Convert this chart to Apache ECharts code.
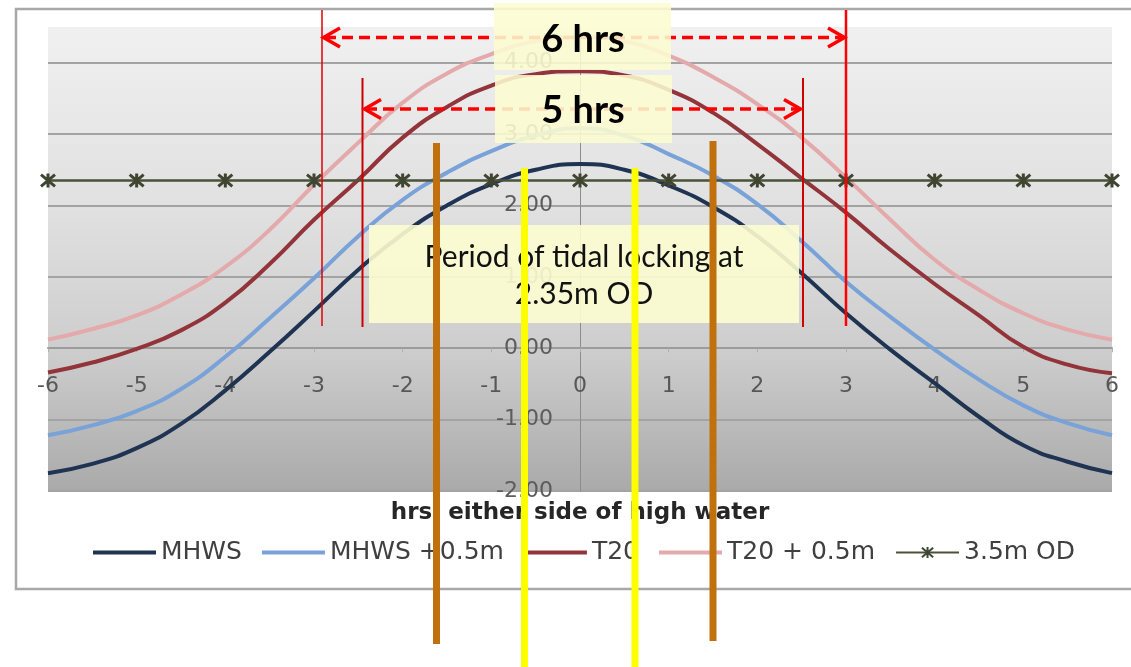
<!DOCTYPE html>
<html>
<head>
<meta charset="utf-8">
<script src="https://cdn.jsdelivr.net/npm/echarts@6/dist/echarts.min.js"></script>
<style>
html,body{margin:0;padding:0;background:#fff;}
#chart{width:1131px;height:667px;}
</style>
</head>
<body>
<div id="chart"></div>
<script>
// ---- data ----
// half-hour steps for the tide curves
const halfHours = [-6, -5.5, -5, -4.5, -4, -3.5, -3, -2.5, -2, -1.5, -1, -0.5, 0,
                   0.5, 1, 1.5, 2, 2.5, 3, 3.5, 4, 4.5, 5, 5.5, 6];
const mhws = [-1.75, -1.62, -1.40, -1.06, -0.59, -0.05, 0.52, 1.10, 1.60, 2.00, 2.30, 2.50, 2.58,
              2.50, 2.28, 1.98, 1.57, 1.05, 0.49, -0.02, -0.49, -0.96, -1.36, -1.59, -1.75];
const mhwsPlus = [-1.22, -1.08, -0.88, -0.57, -0.12, 0.42, 0.98, 1.57, 2.08, 2.46, 2.76, 2.98, 3.08,
                  2.98, 2.72, 2.42, 2.02, 1.50, 0.93, 0.44, -0.02, -0.44, -0.80, -1.05, -1.22];
const t20 = [-0.34, -0.20, -0.01, 0.25, 0.64, 1.18, 1.80, 2.36, 2.95, 3.38, 3.68, 3.84, 3.88,
             3.82, 3.62, 3.30, 2.86, 2.38, 1.90, 1.38, 0.90, 0.46, 0.02, -0.23, -0.35];
const t20Plus = [0.12, 0.27, 0.46, 0.75, 1.14, 1.66, 2.29, 2.88, 3.44, 3.85, 4.12, 4.30, 4.36,
                 4.30, 4.10, 3.80, 3.42, 2.95, 2.39, 1.80, 1.24, 0.82, 0.49, 0.26, 0.12];
// hourly points of the 2.35 m level line
const hours = [-6, -5, -4, -3, -2, -1, 0, 1, 2, 3, 4, 5, 6];
const od = [2.35, 2.35, 2.35, 2.35, 2.35, 2.35, 2.35, 2.35, 2.35, 2.35, 2.35, 2.35, 2.35];
const seriesNames = ['MHWS', 'MHWS +0.5m', 'T20', 'T20 + 0.5m', '3.5m OD'];
const xTitle = 'hrs  either side of high water';
const label6 = '6 hrs';
const label5 = '5 hrs';
const noteLines = ['Period of tidal locking at', '2.35m OD'];

const pairs = (xs, arr) => xs.map((h, i) => [h, arr[i]]);
const starPath = 'path://M0,0L10,10M10,0L0,10M5,-1L5,11';
const barIcon = 'path://M0,0L63,0L63,4L0,4Z';
const FONT = 'DejaVu Sans';

// plot geometry (pixels)
const G = {left: 48, right: 19, top: 27, bottom: 176, height: 464, width: 1064};
const yMin = -2, yMax = 4.5, xMin = -6, xMax = 6;
const zeroYOffset = -(0 - yMin) / (yMax - yMin) * G.height;   // lift x axis to y = 0
const zeroXOffset = -(0 - xMin) / (xMax - xMin) * G.width;    // move y axis to x = 0

const chart = echarts.init(document.getElementById('chart'), null, {renderer: 'canvas'});

function lineSeries(name, data, color, width) {
  return {
    name: name, type: 'line', data: pairs(halfHours, data), smooth: 0.5,
    symbol: 'none', showSymbol: false,
    lineStyle: {color: color, width: width},
    itemStyle: {color: color},
    z: 3
  };
}

const overlays = [];
overlays.push({type: 'rect', z: -10, shape: {x: 16, y: 9, width: 1130, height: 580},
  style: {fill: '#ffffff', stroke: '#a8a8a8', lineWidth: 2.5}, silent: true});
overlays.push({type: 'line', z: 50, shape: {x1: 322, y1: 10, x2: 322, y2: 326}, style: {stroke: '#e00000', lineWidth: 1.5}});
overlays.push({type: 'line', z: 50, shape: {x1: 846, y1: 10, x2: 846, y2: 326}, style: {stroke: '#ff0000', lineWidth: 2.5}});
overlays.push({type: 'line', z: 50, shape: {x1: 362.5, y1: 78, x2: 362.5, y2: 327}, style: {stroke: '#c80000', lineWidth: 2}});
overlays.push({type: 'line', z: 50, shape: {x1: 803, y1: 78, x2: 803, y2: 327}, style: {stroke: '#d00000', lineWidth: 2}});
function arrow(x1, x2, y) {
  overlays.push({type: 'line', z: 51, shape: {x1: x1 + 3, y1: y, x2: x2 - 3, y2: y},
    style: {stroke: '#ff0000', lineWidth: 3.5, lineDash: [11, 6]}});
  overlays.push({type: 'polyline', z: 51, shape: {points: [[x1 + 18, y - 9.5], [x1 + 1.5, y], [x1 + 18, y + 9.5]]},
    style: {stroke: '#ff0000', lineWidth: 3.5, fill: null}});
  overlays.push({type: 'polyline', z: 51, shape: {points: [[x2 - 18, y - 9.5], [x2 - 1.5, y], [x2 - 18, y + 9.5]]},
    style: {stroke: '#ff0000', lineWidth: 3.5, fill: null}});
}
arrow(322, 846, 37.5);
arrow(363, 802, 109);
overlays.push({type: 'rect', z: 60, shape: {x: 494, y: 3, width: 177, height: 67}, style: {fill: 'rgba(252,252,208,0.88)'}});
overlays.push({type: 'rect', z: 60, shape: {x: 495, y: 75, width: 177, height: 68}, style: {fill: 'rgba(252,252,208,0.88)'}});
overlays.push({type: 'rect', z: 60, shape: {x: 369, y: 225, width: 430, height: 98}, style: {fill: 'rgba(252,252,208,0.9)'}});
overlays.push({type: 'text', z: 61, style: {text: label6, x: 583, y: 40, textAlign: 'center', textVerticalAlign: 'middle', font: 'bold 38px Lato', fill: '#000'}});
overlays.push({type: 'text', z: 61, style: {text: label5, x: 583, y: 111, textAlign: 'center', textVerticalAlign: 'middle', font: 'bold 38px Lato', fill: '#000'}});
overlays.push({type: 'text', z: 61, style: {text: noteLines[0], x: 584, y: 257, textAlign: 'center', textVerticalAlign: 'middle', font: '30px Lato', fill: '#111'}});
overlays.push({type: 'text', z: 61, style: {text: noteLines[1], x: 584, y: 294, textAlign: 'center', textVerticalAlign: 'middle', font: '30px Lato', fill: '#111'}});
overlays.push({type: 'line', z: 70, shape: {x1: 436.5, y1: 143, x2: 436.5, y2: 644}, style: {stroke: '#c0700c', lineWidth: 7}});
overlays.push({type: 'line', z: 70, shape: {x1: 713, y1: 141, x2: 713, y2: 641}, style: {stroke: '#c0700c', lineWidth: 7}});
overlays.push({type: 'line', z: 70, shape: {x1: 524.5, y1: 168, x2: 524.5, y2: 667}, style: {stroke: '#ffff00', lineWidth: 7}});
overlays.push({type: 'line', z: 70, shape: {x1: 635, y1: 168, x2: 635, y2: 667}, style: {stroke: '#ffff00', lineWidth: 7}});
overlays.push({type: 'text', z: 40, style: {text: xTitle, x: 580, y: 513, textAlign: 'center', textVerticalAlign: 'middle', font: 'bold 23px "DejaVu Sans"', fill: '#262626'}});

const option = {
  animation: false,
  backgroundColor: 'transparent',
  grid: {
    left: G.left, right: G.right, top: G.top, bottom: G.bottom,
    containLabel: false, outerBoundsMode: 'none',
    show: true, borderWidth: 0,
    backgroundColor: {type: 'linear', x: 0, y: 0, x2: 0, y2: 1, colorStops: [
      {offset: 0, color: '#f0f0f0'}, {offset: 0.4, color: '#e0e0e0'},
      {offset: 0.7, color: '#cdcdcd'}, {offset: 1, color: '#aaaaaa'}]}
  },
  xAxis: {
    type: 'value', min: xMin, max: xMax, interval: 1,
    position: 'bottom', offset: zeroYOffset,
    axisLine: {show: true, onZero: false, lineStyle: {color: '#9c9c9c', width: 2}},
    axisTick: {show: true, length: 4, lineStyle: {color: '#b0b0b0'}},
    axisLabel: {margin: 27, fontSize: 22, fontFamily: FONT, color: '#575757'},
    splitLine: {show: false}
  },
  yAxis: {
    type: 'value', min: yMin, max: yMax, interval: 1,
    position: 'left', offset: zeroXOffset,
    axisLine: {show: true, onZero: false, lineStyle: {color: '#8c8c8c', width: 1}},
    axisTick: {show: false},
    axisLabel: {margin: 27, fontSize: 22, fontFamily: FONT, color: '#5c5c5c',
      formatter: v => (Math.abs(v - Math.round(v)) > 0.01 ? '' : v.toFixed(2))},
    splitLine: {show: true, showMaxLine: false, lineStyle: {color: '#a3a3a3', width: 2}}
  },
  legend: {
    data: [
      {name: seriesNames[0], icon: barIcon},
      {name: seriesNames[1], icon: barIcon},
      {name: seriesNames[2], icon: barIcon},
      {name: seriesNames[3], icon: barIcon},
      {name: seriesNames[4]}
    ],
    left: 88, top: 535, itemWidth: 63, itemHeight: 14, itemGap: 20,
    textStyle: {fontSize: 25, fontFamily: FONT, color: '#404040'}
  },
  series: [
    lineSeries(seriesNames[0], mhws, '#1f3352', 4),
    lineSeries(seriesNames[1], mhwsPlus, '#78a2d8', 4),
    lineSeries(seriesNames[2], t20, '#92343a', 4),
    lineSeries(seriesNames[3], t20Plus, '#e4a9ab', 4),
    {
      name: seriesNames[4], type: 'line', data: pairs(hours, od),
      symbol: starPath, symbolSize: 14, showSymbol: true,
      lineStyle: {color: '#4b5238', width: 2.5},
      itemStyle: {color: '#3f4530', borderColor: '#3f4530', borderWidth: 3},
      z: 4
    }
  ],
  graphic: {elements: overlays}
};
chart.setOption(option);
</script>
</body>
</html>
